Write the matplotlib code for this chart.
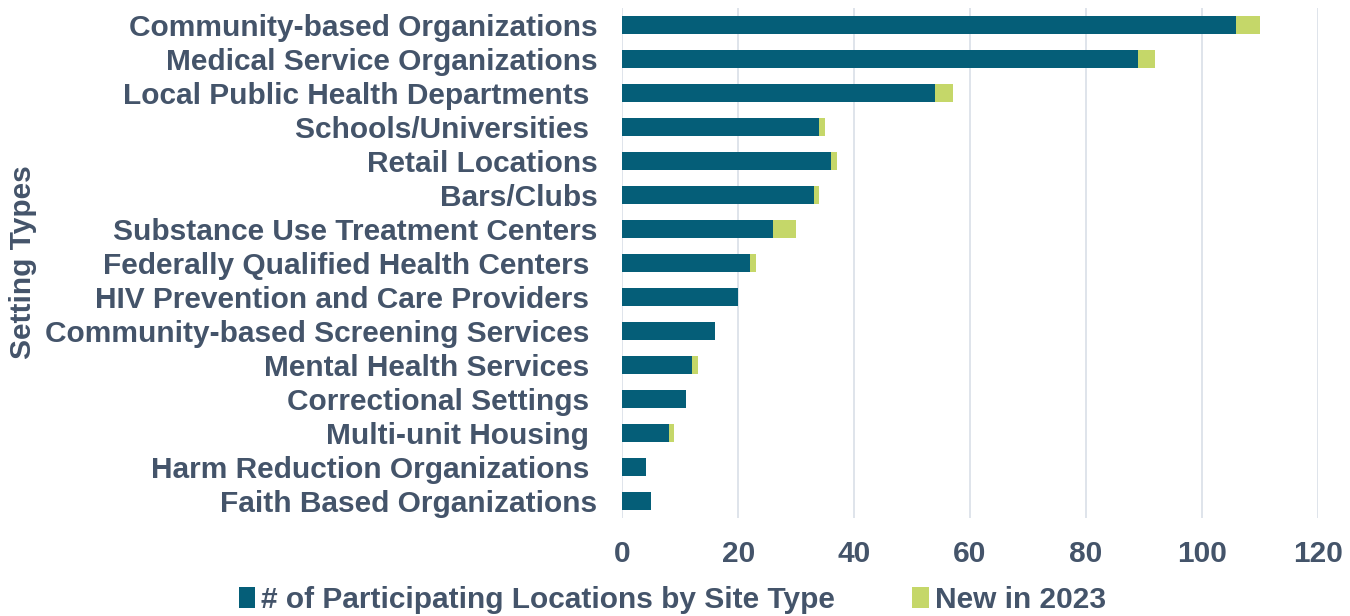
import numpy as np
import matplotlib as mpl
import matplotlib.pyplot as plt

# categories top to bottom (trailing spaces kept as in the source chart)
settings = ['Community-based Organizations', 'Medical Service Organizations',
            'Local Public Health Departments ', 'Schools/Universities ',
            'Retail Locations', 'Bars/Clubs', 'Substance Use Treatment Centers',
            'Federally Qualified Health Centers ', 'HIV Prevention and Care Providers ',
            'Community-based Screening Services ', 'Mental Health Services ',
            'Correctional Settings ', 'Multi-unit Housing ',
            'Harm Reduction Organizations ', 'Faith Based Organizations']
participating = [106, 89, 54, 34, 36, 33, 26, 22, 20, 16, 12, 11, 8, 4, 5]
new_2023      = [4, 3, 3, 1, 1, 1, 4, 1, 0, 0, 1, 0, 1, 0, 0]
x_ticks = [0, 20, 40, 60, 80, 100, 120]

dark = '#055e78'
green = '#c5d769'
txt = '#44546a'
fs = 21.5

plt.rcParams['font.family'] = ['Liberation Sans', 'DejaVu Sans']
plt.rcParams['font.weight'] = 'bold'

fig = plt.figure(figsize=(13.5, 6.16), dpi=100)
ax = fig.add_axes([0.461, 0.159, 0.515, 0.828])

y = np.arange(len(settings))
ax.barh(y, participating, height=0.52, color=dark, zorder=2,
        label='# of Participating Locations by Site Type')
ax.barh(y, new_2023, left=participating, height=0.52, color=green, zorder=2,
        label='New in 2023')

ax.set_ylim(len(settings) - 0.5, -0.5)
ax.set_xlim(0, 120)
ax.set_yticks(y)
ax.set_yticklabels(settings, fontsize=fs, color=txt, fontweight='bold')
ax.set_xticks(x_ticks)
ax.set_xticklabels([str(t) for t in x_ticks], fontsize=fs, color=txt, fontweight='bold')
ax.tick_params(axis='y', length=0, pad=18)
ax.tick_params(axis='x', length=0, pad=16)
ax.grid(axis='x', color='#d9dfe7', lw=1.2, zorder=0)
for s in ax.spines.values():
    s.set_visible(False)

fig.text(0.017, 0.575, 'Setting Types', rotation=90, ha='center', va='center',
         fontsize=fs, color=txt, fontweight='bold')

leg = fig.legend(loc='center', bbox_to_anchor=(0.498, 0.026), ncol=2, frameon=False,
                 fontsize=fs, handlelength=0.55, handleheight=0.7, handletextpad=0.2,
                 columnspacing=2.6)
for t in leg.get_texts():
    t.set_color(txt)

fig.savefig('out.png', dpi=100)
